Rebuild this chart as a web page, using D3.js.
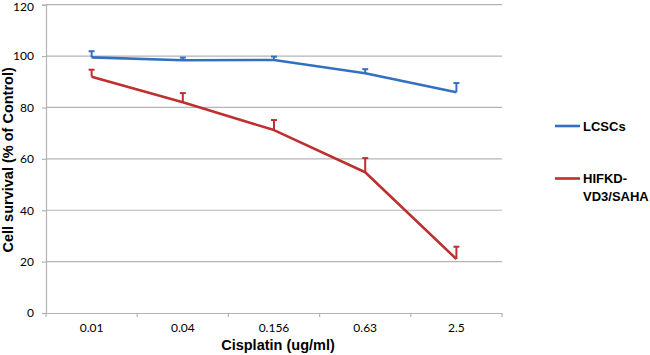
<!DOCTYPE html>
<html><head><meta charset="utf-8">
<script src="https://d3js.org/d3.v7.min.js"></script>
<style>body{margin:0;background:#fff}</style>
</head><body>
<svg id="c" width="650" height="355"></svg>
<script>
const categories = ["0.01","0.04","0.156","0.63","2.5"];
const lcscs = [99.5, 98.4, 98.5, 93.3, 85.9];
const lcscsErr = [2.4, 1.0, 1.3, 1.6, 3.6];
const hif = [92.0, 82.0, 71.2, 54.8, 21.0];
const hifErr = [2.7, 3.6, 3.9, 5.5, 4.8];
const yTicks = [0,20,40,60,80,100,120];
const seriesNames = ["LCSCs","HIFKD-\nVD3/SAHA"];
const colors = ["#3470C0","#BE2F2F"];

const svg = d3.select("#c");
const L=46, R=502, T=4.7, B=313;
const x = d3.scaleBand().domain(categories).range([L,R]);
const y = d3.scaleLinear().domain([0,120]).range([B,T]);

// gridlines
svg.append("g").selectAll("line").data(yTicks.filter(d=>d>0)).join("line")
  .attr("x1",L).attr("x2",R).attr("y1",d=>y(d)).attr("y2",d=>y(d))
  .attr("stroke","#b4b4b4").attr("stroke-width",1.2);

// y axis
const ya = svg.append("g").attr("transform",`translate(${L},0)`)
  .call(d3.axisLeft(y).tickValues(yTicks).tickSize(4).tickPadding(8));
ya.select(".domain").attr("stroke","#b4b4b4").attr("stroke-width",1.2);
ya.selectAll(".tick line").attr("stroke","#b4b4b4").attr("stroke-width",1.2);
ya.selectAll("text").attr("font-family","Lato, sans-serif").attr("font-size",12).attr("fill","#000");
ya.selectAll(".tick").filter(d=>d===120).select("text").attr("dy","0.45em");

// x axis
const xa = svg.append("g").attr("transform",`translate(0,${B})`)
  .call(d3.axisBottom(x).tickSize(0).tickPadding(10));
xa.select(".domain").attr("stroke","#b4b4b4").attr("stroke-width",1.2);
xa.selectAll("text").attr("font-family","Lato, sans-serif").attr("font-size",12).attr("fill","#000");
// x tick marks at band edges
const edges = categories.map(c=>x(c)).concat([R]);
svg.append("g").selectAll("line").data(edges).join("line")
  .attr("x1",d=>d).attr("x2",d=>d).attr("y1",B).attr("y2",B+4)
  .attr("stroke","#b4b4b4").attr("stroke-width",1.2);

// axis titles
svg.append("text").attr("x",(L+R)/2+4).attr("y",350).attr("text-anchor","middle")
  .attr("font-family","Liberation Sans, Arial, sans-serif").attr("font-weight","bold").attr("font-size",14.5)
  .text("Cisplatin (ug/ml)");
svg.append("text").attr("transform",`translate(13,${(T+B)/2+1}) rotate(-90)`).attr("text-anchor","middle")
  .attr("font-family","Liberation Sans, Arial, sans-serif").attr("font-weight","bold").attr("font-size",14.5)
  .text("Cell survival (% of Control)");

const cx = c => x(c)+x.bandwidth()/2;
const data = [[lcscs,lcscsErr],[hif,hifErr]];
data.forEach(([vals,errs],i)=>{
  const pts = categories.map((c,j)=>({c,v:vals[j],e:errs[j]}));
  const g = svg.append("g");
  g.selectAll("line.eb").data(pts).join("line").attr("class","eb")
    .attr("x1",d=>cx(d.c)).attr("x2",d=>cx(d.c)).attr("y1",d=>y(d.v)).attr("y2",d=>y(d.v+d.e))
    .attr("stroke",colors[i]).attr("stroke-width",2);
  g.selectAll("line.cap").data(pts).join("line").attr("class","cap")
    .attr("x1",d=>cx(d.c)-3).attr("x2",d=>cx(d.c)+3).attr("y1",d=>y(d.v+d.e)).attr("y2",d=>y(d.v+d.e))
    .attr("stroke",colors[i]).attr("stroke-width",2);
  g.append("path").datum(pts)
    .attr("d",d3.line().x(d=>cx(d.c)).y(d=>y(d.v)))
    .attr("fill","none").attr("stroke",colors[i]).attr("stroke-width",2.6).attr("stroke-linejoin","round");
});

// legend
const legY = [126,178.5];
seriesNames.forEach((n,i)=>{
  svg.append("line").attr("x1",555).attr("x2",580).attr("y1",legY[i]).attr("y2",legY[i])
    .attr("stroke",colors[i]).attr("stroke-width",2.6);
  const t = svg.append("text").attr("x",583).attr("y",legY[i]+4.5)
    .attr("font-family","Liberation Sans, Arial, sans-serif").attr("font-weight","bold").attr("font-size",13);
  n.split("\n").forEach((s,k)=>t.append("tspan").attr("x",583).attr("dy",k?17.5:0).text(s));
});
</script>
</body></html>
